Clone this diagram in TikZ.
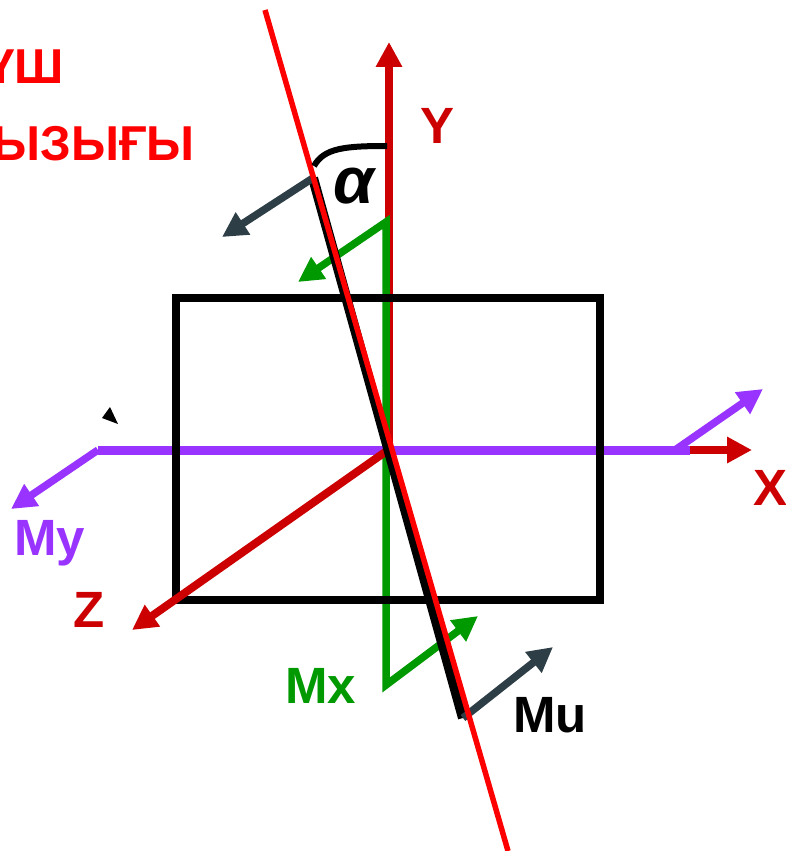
\documentclass[tikz,border=0pt]{standalone}
\usepackage{fontspec}
\setmainfont{Liberation Sans}
\usetikzlibrary{arrows.meta}
\definecolor{axred}{HTML}{CC0000}
\definecolor{brightred}{HTML}{FF0000}
\definecolor{mgreen}{HTML}{009900}
\definecolor{mpurple}{HTML}{9933FF}
\definecolor{mgray}{HTML}{2E3E46}
\begin{document}
\begin{tikzpicture}[x=1pt,y=-1pt,
  tip/.style={-{Triangle[length=25pt,width=25pt]}},
  axisline/.style={draw=axred,line width=8pt,tip},
  momline/.style={line width=7.5pt,tip},
  lbl/.style={font=\bfseries\fontsize{51}{51}\selectfont,inner sep=0pt},
  toptext/.style={font=\bfseries\fontsize{49}{49}\selectfont,text=brightred,inner sep=0pt}]
\useasboundingbox (0,0) rectangle (786,851);
\clip (0,0) rectangle (786,851);
% points
\coordinate (C) at (388,450);
\coordinate (Yb) at (389,450);
\coordinate (Ytip) at (389,42);
\coordinate (Xs) at (690,450);
\coordinate (Xtip) at (752,450);
\coordinate (Ztip) at (132,630);
\coordinate (Pl) at (98,450);
\coordinate (Myt) at (11,509);
\coordinate (Pu) at (675,450);
\coordinate (Put) at (763,389);
\coordinate (B1) at (313,178);
\coordinate (B2) at (463,718);
\coordinate (R1) at (265,10);
\coordinate (R2) at (508,851);
\coordinate (Ga) at (298,282);
\coordinate (Gb) at (386,222);
\coordinate (Gc) at (386,685);
\coordinate (Gd) at (478,616);
\coordinate (Mut) at (553,647);
\coordinate (Mlt) at (222,237);
\coordinate (Aa) at (314,166);
\coordinate (Ab) at (387,146);
% Y axis
\draw[axisline] (Yb) -- (Ytip);
% green moment Mx
\draw[draw=mgreen,line width=7.5pt,{Triangle[length=25pt,width=25pt]}-{Triangle[length=25pt,width=25pt]},line join=miter]
  (Ga) -- (Gb) -- (Gc) -- (Gd);
% purple My
\draw[mpurple,line width=9pt] (Pl) -- (Xs);
\draw[mpurple,momline] (Pl) -- (Myt);
\draw[mpurple,momline] (Pu) -- (Put);
% rectangle
\draw[line width=8.5pt] (176,298) rectangle (600,600);
% axes
\draw[axisline] (Xs) -- (Xtip);
\draw[axisline] (C) -- (Ztip);
% black member line and moments
\draw[line width=10pt] (B1) -- (B2);
\draw[mgray,momline] (B1) -- (Mlt);
\draw[mgray,momline] (B2) -- (Mut);
% red force line
\draw[brightred,line width=5.5pt] (R1) -- (R2);
% angle arc
\draw[line width=6pt] (Aa) .. controls (324,148) and (345,146) .. (Ab);
% small triangle
\fill (102,418) -- (110,407) -- (118,424) -- cycle;
% labels
\node[lbl,text=axred,anchor=base] (ly) at (438,143) {Y};
\node[lbl,text=axred,anchor=base] (lx) at (770,505) {X};
\node[lbl,text=axred,anchor=base] (lz) at (89,627) {Z};
\node[lbl,text=mpurple,anchor=base west] (lmy) at (14,555) {My};
\node[lbl,text=mgreen,anchor=base west] (lmx) at (285,703) {Mx};
\node[lbl,anchor=base west] (lmu) at (513,732) {Mu};
\node[font=\bfseries\itshape\fontsize{66}{66}\selectfont,inner sep=0pt,anchor=base] (la) at (354,203) {α};
\node[toptext,anchor=base east] (t1) at (64,83) {КҮШ};
\node[toptext,anchor=base east] (t2) at (195,160) {СЫЗЫҒЫ};
\end{tikzpicture}
\end{document}
